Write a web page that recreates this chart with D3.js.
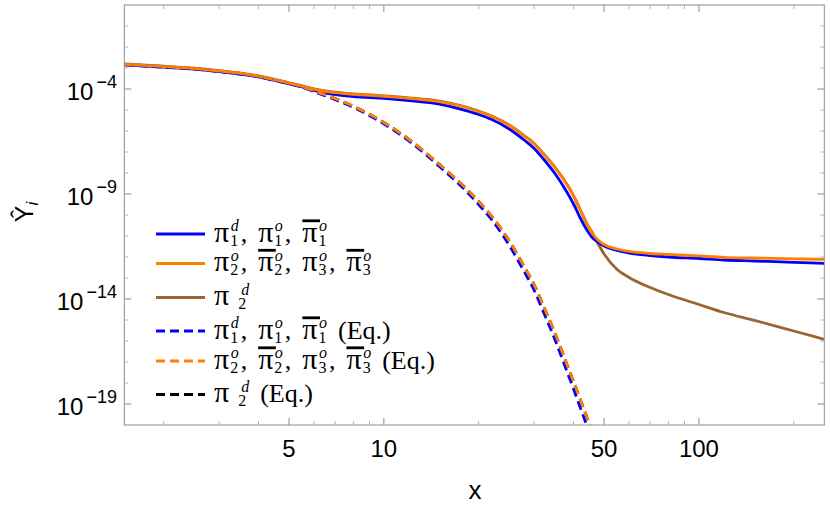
<!DOCTYPE html>
<html>
<head>
<meta charset="utf-8">
<script src="https://cdn.jsdelivr.net/npm/d3@7"></script>
<style>
  body { margin: 0; background: #fff; }
  svg { display: block; }
</style>
</head>
<body>
<div id="chart"></div>
<script>
// Data
const xFull = [1.5, 2, 2.5, 3, 4, 5, 5.5, 6, 6.5, 7, 8, 10, 12, 15, 18, 20, 22, 25, 28, 30,
    32, 35, 38, 40, 42, 44, 46, 48, 50, 55, 60, 70, 80, 100, 120, 150, 200, 250];

// pi_1^d, pi_1^o, bar pi_1^o
const yPi1 = [1.40e-3, 1.09e-3, 8.77e-4, 6.74e-4, 3.77e-4, 1.77e-4, 1.25e-4, 8.48e-5, 6.45e-5, 5.47e-5,
    4.39e-5, 3.61e-5, 2.83e-5, 1.93e-5, 9.78e-6, 6.11e-6, 3.53e-6, 1.25e-6, 3.53e-7, 1.47e-7,
    4.90e-8, 8.96e-9, 1.32e-9, 3.34e-10, 7.20e-11, 2.04e-11, 8.03e-12, 4.90e-12, 3.34e-12, 2.04e-12,
    1.55e-12, 1.18e-12, 1.0e-12, 8.49e-13, 7.19e-13, 6.46e-13, 5.60e-13, 5.0e-13];

// pi_2^o, bar pi_2^o, pi_3^o, bar pi_3^o
const yPi2 = [1.50e-3, 1.17e-3, 9.36e-4, 7.20e-4, 4.03e-4, 1.89e-4, 1.35e-4, 9.68e-5, 7.77e-5, 6.74e-5,
    5.59e-5, 4.49e-5, 3.61e-5, 2.51e-5, 1.39e-5, 8.48e-6, 4.90e-6, 1.83e-6, 5.47e-7, 2.40e-7,
    8.48e-8, 1.73e-8, 2.99e-9, 8.03e-10, 1.73e-10, 3.94e-11, 1.25e-11, 6.11e-12, 3.94e-12, 2.40e-12,
    1.83e-12, 1.47e-12, 1.32e-12, 1.12e-12, 9.68e-13, 8.95e-13, 8.20e-13, 7.76e-13];

// pi_2^d
const yPi2d = [1.58e-3, 1.23e-3, 9.83e-4, 7.56e-4, 4.23e-4, 1.98e-4, 1.42e-4, 1.02e-4, 8.16e-5, 7.08e-5,
    5.87e-5, 4.71e-5, 3.79e-5, 2.64e-5, 1.46e-5, 8.90e-6, 5.15e-6, 1.92e-6, 5.74e-7, 2.52e-7,
    8.90e-8, 1.82e-8, 3.14e-9, 8.43e-10, 1.82e-10, 4.14e-11, 1.31e-11, 3.94e-12, 1.39e-12, 2.54e-13,
    1.06e-13, 3.53e-14, 1.64e-14, 5.47e-15, 2.28e-15, 9.68e-16, 2.99e-16, 1.20e-16];

// equilibrium curves
const xEq = [1.5, 2, 2.5, 3, 4, 5, 5.5, 6, 6.5, 7, 8, 10, 12, 15, 18, 20, 22, 25, 28, 30,
    32, 35, 38, 40, 42, 44, 46, 48];

const yPi1Eq = [1.40e-3, 1.09e-3, 8.77e-4, 6.74e-4, 3.77e-4, 1.77e-4, 1.22e-4, 7.52e-5, 4.85e-5, 3.13e-5,
    1.32e-5, 2.20e-6, 3.41e-7, 2.06e-8, 1.67e-9, 3.13e-10, 5.91e-11, 3.57e-12, 1.79e-13, 2.60e-14,
    2.68e-15, 1.06e-16, 3.98e-18, 5.18e-19, 6.81e-20, 1.0e-20, 1.55e-21, 2.68e-22];

const yPi2Eq = [1.50e-3, 1.17e-3, 9.36e-4, 7.20e-4, 4.03e-4, 1.89e-4, 1.30e-4, 8.21e-5, 5.35e-5, 3.49e-5,
    1.50e-5, 2.54e-6, 4.03e-7, 2.57e-8, 2.20e-9, 4.35e-10, 8.58e-11, 5.85e-12, 3.09e-13, 4.75e-14,
    5.18e-15, 2.15e-16, 8.58e-18, 1.15e-18, 1.64e-19, 2.54e-20, 4.03e-21, 7.20e-22];

const yPi2dEq = [1.50e-3, 1.17e-3, 9.36e-4, 7.20e-4, 4.03e-4, 1.89e-4, 1.30e-4, 8.21e-5, 5.35e-5, 3.49e-5,
    1.50e-5, 2.54e-6, 4.03e-7, 2.57e-8, 2.20e-9, 4.35e-10, 8.58e-11, 5.85e-12, 3.09e-13, 4.75e-14,
    5.18e-15, 2.15e-16, 8.58e-18, 1.15e-18, 1.64e-19, 2.54e-20, 4.03e-21, 7.20e-22];

// Ticks
const xTickValues = [2, 3, 4, 5, 6, 7, 8, 9, 10, 20, 30, 40, 50, 60, 70, 80, 90, 100, 200];
const xTickLabels = [5, 10, 50, 100];
const yTickExps = d3.range(-19, 0);
const yLabelExps = [-4, -9, -14, -19];

const width = 830, height = 505;
const margin = {top: 5, right: 5.7, bottom: 80, left: 124.3};

const svg = d3.select('#chart').append('svg')
    .attr('width', width)
    .attr('height', height);

const x = d3.scaleLog()
    .domain([1.5, 250])
    .range([margin.left, width - margin.right]);

const y = d3.scaleLog()
    .domain([1e-20, 1])
    .range([height - margin.bottom, margin.top]);

const x0 = margin.left, x1 = width - margin.right;
const y0 = height - margin.bottom, y1 = margin.top;

svg.append('clipPath').attr('id', 'plot-clip')
    .append('rect')
    .attr('x', x0).attr('y', y1)
    .attr('width', x1 - x0).attr('height', y0 - y1);

// Series, in drawing order (bottom first)
const series = [
    {xs: xEq, ys: yPi2dEq, color: '#000000', dash: '9,5'},
    {xs: xFull, ys: yPi2d, color: '#996633', dash: null},
    {xs: xFull, ys: yPi1, color: '#0000ff', dash: null},
    {xs: xFull, ys: yPi2, color: '#ff8000', dash: null},
    {xs: xEq, ys: yPi1Eq, color: '#0000ff', dash: '9,5'},
    {xs: xEq, ys: yPi2Eq, color: '#ff8000', dash: '9,5'}
];

const line = d3.line()
    .x(d => x(d[0]))
    .y(d => y(d[1]))
    .curve(d3.curveMonotoneX);

const plot = svg.append('g').attr('clip-path', 'url(#plot-clip)');

series.forEach(s => {
    const pts = s.xs.map((v, i) => [v, s.ys[i]]);
    plot.append('path')
        .datum(pts)
        .attr('d', line)
        .attr('fill', 'none')
        .attr('stroke', s.color)
        .attr('stroke-width', 2.8)
        .attr('stroke-dasharray', s.dash)
        .attr('stroke-linejoin', 'round');
});

// Frame
svg.append('rect')
    .attr('x', x0).attr('y', y1)
    .attr('width', x1 - x0).attr('height', y0 - y1)
    .attr('fill', 'none')
    .attr('stroke', '#8c8c8c')
    .attr('stroke-width', 1);

const ticks = svg.append('g');

// x ticks (bottom and top)
xTickValues.forEach(v => {
    const major = xTickLabels.includes(v);
    const len = major ? 7 : 4;
    const col = major ? '#8c8c8c' : '#b4b4b4';
    const px = x(v);
    ticks.append('line')
        .attr('x1', px).attr('x2', px)
        .attr('y1', y0).attr('y2', y0 - len)
        .attr('stroke', col);
    ticks.append('line')
        .attr('x1', px).attr('x2', px)
        .attr('y1', y1).attr('y2', y1 + len)
        .attr('stroke', col);
});

// y ticks (left and right)
yTickExps.forEach(e => {
    const major = yLabelExps.includes(e);
    const len = major ? 7 : 4;
    const col = major ? '#8c8c8c' : '#b4b4b4';
    const py = y(Math.pow(10, e));
    ticks.append('line')
        .attr('x1', x0).attr('x2', x0 + len)
        .attr('y1', py).attr('y2', py)
        .attr('stroke', col);
    ticks.append('line')
        .attr('x1', x1).attr('x2', x1 - len)
        .attr('y1', py).attr('y2', py)
        .attr('stroke', col);
});

const sans = '"Liberation Sans", Arial, sans-serif';
const serif = '"Liberation Serif", "Times New Roman", serif';

// x tick labels
xTickLabels.forEach(v => {
    svg.append('text')
        .attr('x', x(v))
        .attr('y', 457)
        .attr('text-anchor', 'middle')
        .attr('font-family', sans)
        .attr('font-size', 24)
        .attr('fill', '#000')
        .text(v);
});

// y tick labels: 10^e
yLabelExps.forEach(e => {
    const py = y(Math.pow(10, e));
    const t = svg.append('text')
        .attr('x', 117)
        .attr('y', py + 11)
        .attr('text-anchor', 'end')
        .attr('font-family', sans)
        .attr('font-size', 24)
        .attr('fill', '#000');
    t.append('tspan').text('10');
    t.append('tspan')
        .attr('dx', 3)
        .attr('dy', -11.7)
        .attr('font-size', 18)
        .text('\u2212' + Math.abs(e));
});

// Axis labels
svg.append('text')
    .attr('x', 475)
    .attr('y', 499)
    .attr('text-anchor', 'middle')
    .attr('font-family', sans)
    .attr('font-size', 26)
    .text('x');

const yl = svg.append('text')
    .attr('transform', 'translate(33,212) rotate(-90)')
    .attr('text-anchor', 'middle')
    .attr('font-family', sans)
    .attr('font-size', 25);
yl.append('tspan').text('\u0176');
yl.append('tspan')
    .attr('dy', 5)
    .attr('font-size', 17)
    .attr('font-style', 'italic')
    .text('i');

// Legend
const legendRows = [
    {color: '#0000ff', dash: null, terms: [{sup: 'd', sub: '1'}, {sup: 'o', sub: '1'}, {sup: 'o', sub: '1', bar: true}], eq: false},
    {color: '#ff8000', dash: null, terms: [{sup: 'o', sub: '2'}, {sup: 'o', sub: '2', bar: true}, {sup: 'o', sub: '3'}, {sup: 'o', sub: '3', bar: true}], eq: false},
    {color: '#996633', dash: null, terms: [{sup: 'd', sub: '2', wide: true}], eq: false},
    {color: '#0000ff', dash: '9,5', terms: [{sup: 'd', sub: '1'}, {sup: 'o', sub: '1'}, {sup: 'o', sub: '1', bar: true}], eq: true},
    {color: '#ff8000', dash: '9,5', terms: [{sup: 'o', sub: '2'}, {sup: 'o', sub: '2', bar: true}, {sup: 'o', sub: '3'}, {sup: 'o', sub: '3', bar: true}], eq: true},
    {color: '#000000', dash: '9,5', terms: [{sup: 'd', sub: '2', wide: true}], eq: true}
];
const legendY = [234, 263.5, 297.5, 331, 361, 394.5];

const legend = svg.append('g');

legendRows.forEach((row, i) => {
    const ly = legendY[i];
    legend.append('line')
        .attr('x1', 156).attr('x2', 205)
        .attr('y1', ly).attr('y2', ly)
        .attr('stroke', row.color)
        .attr('stroke-width', 2.8)
        .attr('stroke-dasharray', row.dash);

    const base = ly + 7.8;
    const t = legend.append('text')
        .attr('font-family', serif)
        .attr('font-size', 26)
        .attr('fill', '#000');

    // one text per row, pieces placed with absolute tspans
    const piece = (str, px, py, size, italic) => {
        const s = t.append('tspan')
            .attr('x', px).attr('y', py)
            .attr('font-size', size)
            .attr('font-style', italic ? 'italic' : 'normal')
            .text(str);
        return s.node().getComputedTextLength();
    };

    let cx = 214;
    row.terms.forEach((term, j) => {
        if (j > 0) cx += piece(',', cx, base, 26, false) + 11;
        const w = piece('\u03c0', cx, base, 30, false);
        if (term.bar) {
            legend.append('line')
                .attr('x1', cx).attr('x2', cx + w + 2.5)
                .attr('y1', base - 21).attr('y2', base - 21)
                .attr('stroke', '#000')
                .attr('stroke-width', 2.8);
        }
        const sx = cx + w + (term.wide ? 9 : 1);
        const subW = piece(term.sub, sx, base + 4, 16, false);
        const supW = piece(term.sup, sx + (term.wide ? 3 : 0.5), base - 10.5, 16, true);
        cx = sx + Math.max(supW + (term.wide ? 3 : 0.5), subW) + 2;
    });
    if (row.eq) {
        piece('(Eq.)', cx + 9, base, 26, false);
    }
});
</script>
</body>
</html>
